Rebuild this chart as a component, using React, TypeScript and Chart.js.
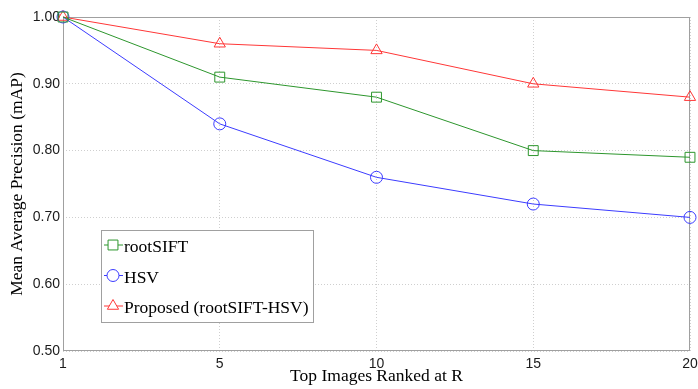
import React, { useEffect, useRef } from "react";
import { Chart, registerables } from "chart.js";
Chart.register(...registerables);

const xPositions = [0, 5, 10, 15, 20];
const xTickLabels = ["1", "5", "10", "15", "20"];
const rootSIFT = [1.0, 0.91, 0.88, 0.8, 0.79];
const hsv = [1.0, 0.84, 0.76, 0.72, 0.7];
const proposed = [1.0, 0.96, 0.95, 0.9, 0.88];
const seriesLabels = ["rootSIFT", "HSV", "Proposed (rootSIFT-HSV)"];
const yTitle = "Mean Average Precision (mAP)";
const xTitle = "Top Images Ranked at R";

const GREEN = "rgb(45,150,45)";
const BLUE = "rgb(60,60,255)";
const RED = "rgb(255,55,55)";

function drawMarker(ctx: CanvasRenderingContext2D, style: string, x: number, y: number, r: number) {
  ctx.beginPath();
  if (style === "rect") {
    const s = Math.SQRT1_2 * r;
    ctx.rect(x - s, y - s, 2 * s, 2 * s);
  } else if (style === "circle") {
    ctx.arc(x, y, r, 0, Math.PI * 2);
  } else {
    for (let k = 0; k < 3; k++) {
      const a = -Math.PI / 2 + (k * 2 * Math.PI) / 3;
      const px = x + r * Math.cos(a);
      const py = y + r * Math.sin(a);
      if (k === 0) ctx.moveTo(px, py);
      else ctx.lineTo(px, py);
    }
    ctx.closePath();
  }
  ctx.fillStyle = "#fff";
  ctx.fill();
  ctx.stroke();
}

const framePlugin = {
  id: "frame",
  beforeDatasetsDraw(chart: any) {
    const { ctx, chartArea: a } = chart;
    ctx.save();
    ctx.strokeStyle = "#a0a0a0";
    ctx.lineWidth = 1;
    ctx.strokeRect(Math.round(a.left) + 0.5, Math.round(a.top) + 0.5, Math.round(a.right - a.left) - 1, Math.round(a.bottom - a.top) - 1);
    ctx.restore();
  },
};

const legendPlugin = {
  id: "boxLegend",
  afterDatasetsDraw(chart: any) {
    const { ctx, chartArea: a } = chart;
    const x0 = a.left + 38;
    const y0 = a.top + 213;
    const w = 212;
    const h = 92;
    ctx.save();
    ctx.fillStyle = "#fff";
    ctx.fillRect(x0, y0, w, h);
    ctx.strokeStyle = "#a0a0a0";
    ctx.lineWidth = 1;
    ctx.strokeRect(x0 + 0.5, y0 + 0.5, w, h);
    chart.data.datasets.forEach((ds: any, i: number) => {
      const cy = y0 + 15 + i * 30.5;
      ctx.strokeStyle = ds.borderColor;
      ctx.lineWidth = 1;
      ctx.beginPath();
      ctx.moveTo(x0 + 3, cy);
      ctx.lineTo(x0 + 22, cy);
      ctx.stroke();
      drawMarker(ctx, ds.pointStyle, x0 + 12, cy, ds.pointRadius);
      ctx.fillStyle = "#000";
      ctx.font = "17.5px 'Liberation Serif'";
      ctx.textBaseline = "alphabetic";
      ctx.textAlign = "left";
      ctx.fillText(ds.label, x0 + 23, cy + 7);
    });
    ctx.restore();
  },
};

function makeData(values: number[]) {
  return xPositions.map((x, i) => ({ x, y: values[i] }));
}

export default function App() {
  const ref = useRef<HTMLCanvasElement | null>(null);
  useEffect(() => {
    document.body.style.margin = "0";
    const canvas = ref.current!;
    const common = { borderWidth: 1, pointBorderWidth: 1, pointBackgroundColor: "rgba(255,255,255,0)", clip: false as any, tension: 0 };
    const chart = new Chart(canvas, {
      type: "line",
      data: {
        datasets: [
          { ...common, label: seriesLabels[0], data: makeData(rootSIFT), borderColor: GREEN, pointBorderColor: GREEN, pointStyle: "rect", pointRadius: 7 },
          { ...common, label: seriesLabels[1], data: makeData(hsv), borderColor: BLUE, pointBorderColor: BLUE, pointStyle: "circle", pointRadius: 6 },
          { ...common, label: seriesLabels[2], data: makeData(proposed), borderColor: RED, pointBorderColor: RED, pointStyle: "triangle", pointRadius: 6.5 },
        ] as any,
      },
      options: {
        animation: false,
        responsive: false,
        devicePixelRatio: 1,
        layout: { padding: { left: 0, right: 6, top: 17, bottom: 0 } },
        plugins: { legend: { display: false }, tooltip: { enabled: false } },
        scales: {
          x: {
            type: "linear",
            min: 0,
            max: 20,
            grid: { color: "#cfcfcf", drawTicks: false },
            border: { display: false, dash: [1, 2] },
            ticks: {
              stepSize: 5,
              padding: 5,
              maxRotation: 0,
              color: "#1a1a1a",
              font: { family: "'Liberation Sans'", size: 14 },
              callback: (v: any) => {
                const i = xPositions.indexOf(Number(v));
                return i >= 0 ? xTickLabels[i] : "";
              },
            },
            title: { display: true, text: xTitle, color: "#000", font: { family: "'Liberation Serif'", size: 17.5 }, padding: { top: 0, bottom: 2.5 } },
            afterFit: (s: any) => {
              s.height = 38;
              s.paddingLeft = 0;
              s.paddingRight = 0;
            },
          } as any,
          y: {
            min: 0.5,
            max: 1.0,
            grid: { color: "#cfcfcf", drawTicks: false },
            border: { display: false, dash: [1, 2] },
            ticks: {
              stepSize: 0.1,
              padding: 3,
              color: "#1a1a1a",
              font: { family: "'Liberation Sans'", size: 14 },
              callback: (v: any) => Number(v).toFixed(2),
            },
            title: { display: true, text: yTitle, color: "#000", font: { family: "'Liberation Serif'", size: 17.5 }, padding: { top: 6.5, bottom: 0 } },
            afterFit: (s: any) => {
              s.width = 63;
              s.paddingTop = 0;
              s.paddingBottom = 0;
            },
          } as any,
        },
      },
      plugins: [framePlugin, legendPlugin],
    });
    return () => chart.destroy();
  }, []);
  return (
    <div style={{ width: 698, height: 389 }}>
      <canvas ref={ref} width={698} height={389} style={{ display: "block" }} />
    </div>
  );
}
